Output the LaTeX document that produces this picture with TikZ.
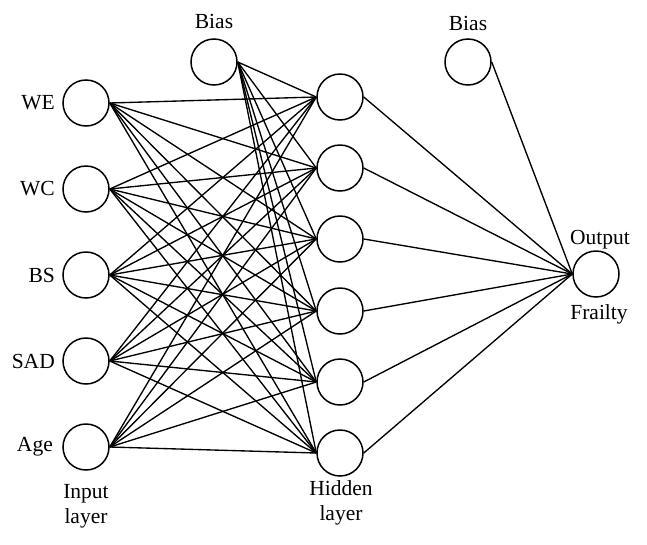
\documentclass[tikz,border=0pt]{standalone}
\usepackage{fontspec}
\setmainfont{Liberation Serif}
\begin{document}
\begin{tikzpicture}[x=1pt,y=-1pt,
  neuron/.style={circle,draw,line width=1.5pt,minimum size=46pt,inner sep=0pt},
  conn/.style={line width=1.35pt},
  lbl/.style={font=\fontsize{21.5}{25}\selectfont,inner sep=0pt}]
\useasboundingbox (0,0) rectangle (647,544);
% input layer
\foreach \n/\y in {1/103,2/189,3/275,4/361,5/447}
  \node[neuron] (i\n) at (86,\y) {};
% hidden layer
\foreach \n/\y in {1/97,2/168,3/239,4/311,5/382,6/453}
  \node[neuron] (h\n) at (340,\y) {};
\node[neuron] (b1) at (214,62) {};
\node[neuron] (b2) at (468,62) {};
\node[neuron] (o) at (596,274) {};
% labels
\node[lbl,anchor=east] (lwe) at (55,103) {WE};
\node[lbl,anchor=east] (lwc) at (55,189) {WC};
\node[lbl,anchor=east] (lbs) at (55,275) {BS};
\node[lbl,anchor=east] (lsad) at (55,361) {SAD};
\node[lbl,anchor=east] (lage) at (53,447) {Age};
\node[lbl] (lb1) at (214,21) {Bias};
\node[lbl] (lb2) at (468,23) {Bias};
\node[lbl] (lout) at (600,240) {Output};
\node[lbl] (lfr) at (599,314) {Frailty};
\node[lbl,align=center] (lin) at (86,506) {Input\\layer};
\node[lbl,align=center] (lhid) at (341,503) {Hidden\\layer};
% connections
\foreach \i in {1,...,5}
  \foreach \h in {1,...,6}
    \draw[conn] (i\i.east) -- (h\h.west);
\foreach \h in {1,...,6}
  \draw[conn] (b1.east) -- (h\h.west);
\foreach \h in {1,...,6}
  \draw[conn] (h\h.east) -- (o.west);
\draw[conn] (b2.east) -- (o.west);
\end{tikzpicture}
\end{document}
